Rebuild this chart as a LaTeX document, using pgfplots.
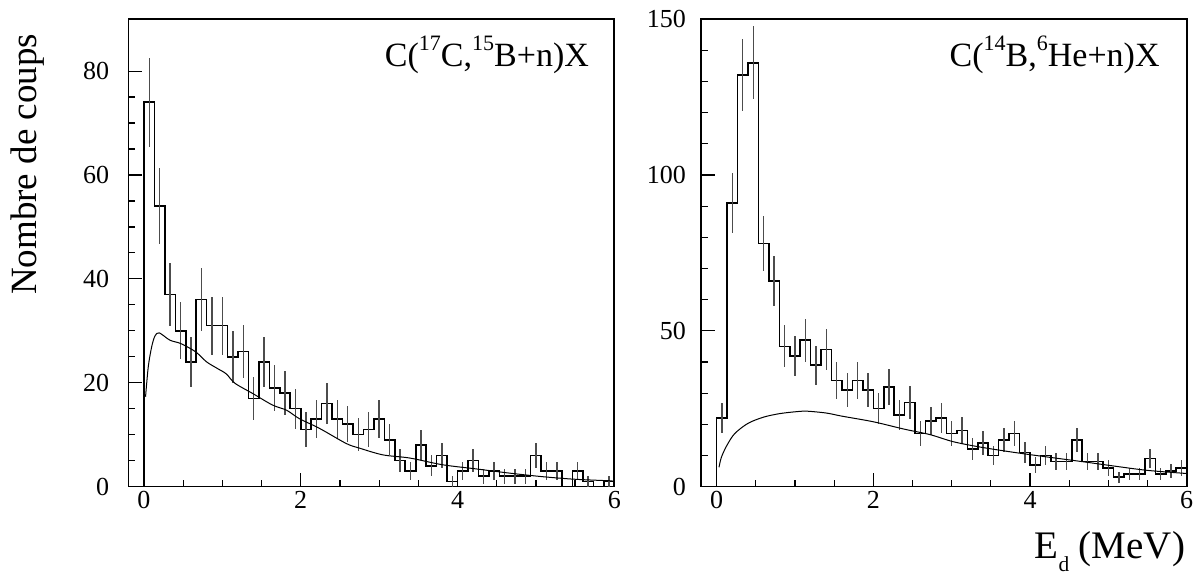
\documentclass[border=0pt]{standalone}
\usepackage{fontspec}
\setmainfont{Liberation Serif}
\usepackage{pgfplots}
\pgfplotsset{compat=1.18}
\usepackage{pgfplotstable}

% bin centre, bin right edge, counts, error
\pgfplotstableread{
c hi n e
nan 0 0 0
0.0667 0.1333 74 8.60
0.2 0.2667 54 7.35
0.3333 0.4 37 6.08
0.4667 0.5333 30 5.48
0.6 0.6667 24 4.90
0.7333 0.8 36 6.00
0.8667 0.9333 31 5.57
1.0 1.0667 31 5.57
1.1333 1.2 25 5.00
1.2667 1.3333 26 5.10
1.4 1.4667 17 4.12
1.5333 1.6 24 4.90
1.6667 1.7333 19 4.36
1.8 1.8667 18 4.24
1.9333 2.0 15 3.87
2.0667 2.1333 11 3.32
2.2 2.2667 13 3.61
2.3333 2.4 16 4.00
2.4667 2.5333 13 3.61
2.6 2.6667 12 3.46
2.7333 2.8 10 3.16
2.8667 2.9333 11 3.32
3.0 3.0667 13 3.61
3.1333 3.2 9 3.00
3.2667 3.3333 5 2.24
3.4 3.4667 3 1.73
3.5333 3.6 8 2.83
3.6667 3.7333 4 2.00
3.8 3.8667 6 2.45
3.9333 4.0 1 1.00
4.0667 4.1333 3 1.73
4.2 4.2667 5 2.24
4.3333 4.4 2 1.41
4.4667 4.5333 3 1.73
4.6 4.6667 2 1.41
4.7333 4.8 2 1.41
4.8667 4.9333 2 1.41
5.0 5.0667 6 2.45
5.1333 5.2 3 1.73
5.2667 5.3333 3 1.73
5.4 5.4667 0 0
5.5333 5.6 3 1.73
5.6667 5.7333 1 1.00
5.8 5.8667 0 0
5.9333 6.0 1 1.00
}\cdata

\pgfplotstableread{
c hi n e
nan 0 0 0
0.0667 0.1333 22 4.69
0.2 0.2667 91 9.54
0.3333 0.4 132 11.49
0.4667 0.5333 136 11.66
0.6 0.6667 78 8.83
0.7333 0.8 66 8.12
0.8667 0.9333 45 6.71
1.0 1.0667 42 6.48
1.1333 1.2 47 6.86
1.2667 1.3333 39 6.24
1.4 1.4667 44 6.63
1.5333 1.6 34 5.83
1.6667 1.7333 31 5.57
1.8 1.8667 34 5.83
1.9333 2.0 31 5.57
2.0667 2.1333 25 5.00
2.2 2.2667 32 5.66
2.3333 2.4 23 4.80
2.4667 2.5333 27 5.20
2.6 2.6667 17 4.12
2.7333 2.8 21 4.58
2.8667 2.9333 22 4.69
3.0 3.0667 17 4.12
3.1333 3.2 18 4.24
3.2667 3.3333 12 3.46
3.4 3.4667 14 3.74
3.5333 3.6 10 3.16
3.6667 3.7333 15 3.87
3.8 3.8667 17 4.12
3.9333 4.0 11 3.32
4.0667 4.1333 7 2.65
4.2 4.2667 10 3.16
4.3333 4.4 8 2.83
4.4667 4.5333 8 2.83
4.6 4.6667 15 3.87
4.7333 4.8 8 2.83
4.8667 4.9333 8 2.83
5.0 5.0667 6 2.45
5.1333 5.2 3 1.73
5.2667 5.3333 4 2.00
5.4 5.4667 4 2.00
5.5333 5.6 9 3.00
5.6667 5.7333 4 2.00
5.8 5.8667 5 2.24
5.9333 6.0 6 2.45
}\bdata

\newcommand\sups[1]{\raisebox{8.3pt}{\fontsize{11}{12}\selectfont #1}}

\pgfplotsset{
  panel/.style={
    scale only axis, width=243pt, height=233.7pt, anchor=south west,
    xmin=-0.2, xmax=6, xtick={0,2,4,6}, minor x tick num=3,
    tick pos=left, tick align=inside,
    major tick length=7pt, minor tick length=3.3pt,
    every tick/.style={black, line width=0.6pt},
    axis line style={line width=0.8pt},
    tick label style={font=\fontsize{13}{15}\selectfont,
      /pgf/number format/assume math mode=true},
    xticklabel style={yshift=1pt},
  },
  histo/.style={const plot mark right, black, line width=0.8pt},
  errs/.style={draw=none, mark=none, forget plot,
    error bars/.cd, y dir=both, y explicit, error mark=none,
    error bar style={draw=black!70, line width=0.7pt}},
  model/.style={smooth, black, line width=0.5pt},
}

\begin{document}
\begin{tikzpicture}
\useasboundingbox (0,0) rectangle (600pt,288pt);

\begin{axis}[panel, at={(64.15pt,44.7pt)},
  ymin=0, ymax=90, ytick={0,20,40,60,80}, minor y tick num=3,
  yticklabel style={xshift=-6pt}]
  \addplot[histo] table[x=hi, y=n] {\cdata};
  \addplot[errs] table[x=c, y=n, y error=e] {\cdata};
  \addplot[model] coordinates {
    (0.02,17.3) (0.055,23.1) (0.098,26.9) (0.14,29.0) (0.195,29.6)
    (0.33,28.2) (0.46,27.6) (0.59,26.6) (0.68,25.7) (0.80,24.0)
    (0.93,22.8) (1.05,21.7) (1.16,19.9) (1.39,17.9) (1.64,15.7)
    (1.82,14.7) (1.98,13.1) (2.24,11.2) (2.58,8.3) (2.75,7.4)
    (3.05,6.1) (3.39,5.5) (3.81,4.2) (4.24,3.4) (4.66,2.6)
    (5.09,1.9) (5.51,1.4) (5.98,1.1)};
\end{axis}

\begin{axis}[panel, at={(350.5pt,44.7pt)}, width=242.85pt,
  ymin=0, ymax=150, ytick={0,50,100,150}, minor y tick num=4,
  yticklabel style={xshift=-4pt}]
  \addplot[histo] table[x=hi, y=n] {\bdata};
  \addplot[errs] table[x=c, y=n, y error=e] {\bdata};
  \addplot[model] coordinates {
    (0.03,6.2) (0.06,9.4) (0.13,13.2) (0.23,17.0) (0.40,20.3)
    (0.60,22.3) (0.80,23.4) (1.00,24.0) (1.15,24.2) (1.40,23.6)
    (1.60,22.6) (2.00,20.8) (2.40,18.4) (2.72,16.7) (3.02,14.4)
    (3.36,12.7) (3.79,11.0) (4.22,9.5) (4.64,8.1) (5.07,6.6)
    (5.50,5.2) (6.00,4.2)};
\end{axis}

\node[rotate=90, anchor=base, inner sep=0, font=\fontsize{18.5}{20}\selectfont]
  at (18.35pt,205.75pt) {Nombre de coups};
\node[anchor=base west, inner sep=0, font=\fontsize{19.5}{21}\selectfont]
  at (517.15pt,8.5pt) {E\raisebox{-6.5pt}{\fontsize{10.7}{12}\selectfont d} (MeV)};
\node[anchor=base east, inner sep=0, font=\fontsize{17}{19}\selectfont]
  at (294.65pt,254.65pt) {C(\sups{17}C,\sups{15}B+n)X};
\node[anchor=base east, inner sep=0, font=\fontsize{17}{19}\selectfont]
  at (580pt,254.65pt) {C(\sups{14}B,\sups{6}He+n)X};
\end{tikzpicture}
\end{document}
